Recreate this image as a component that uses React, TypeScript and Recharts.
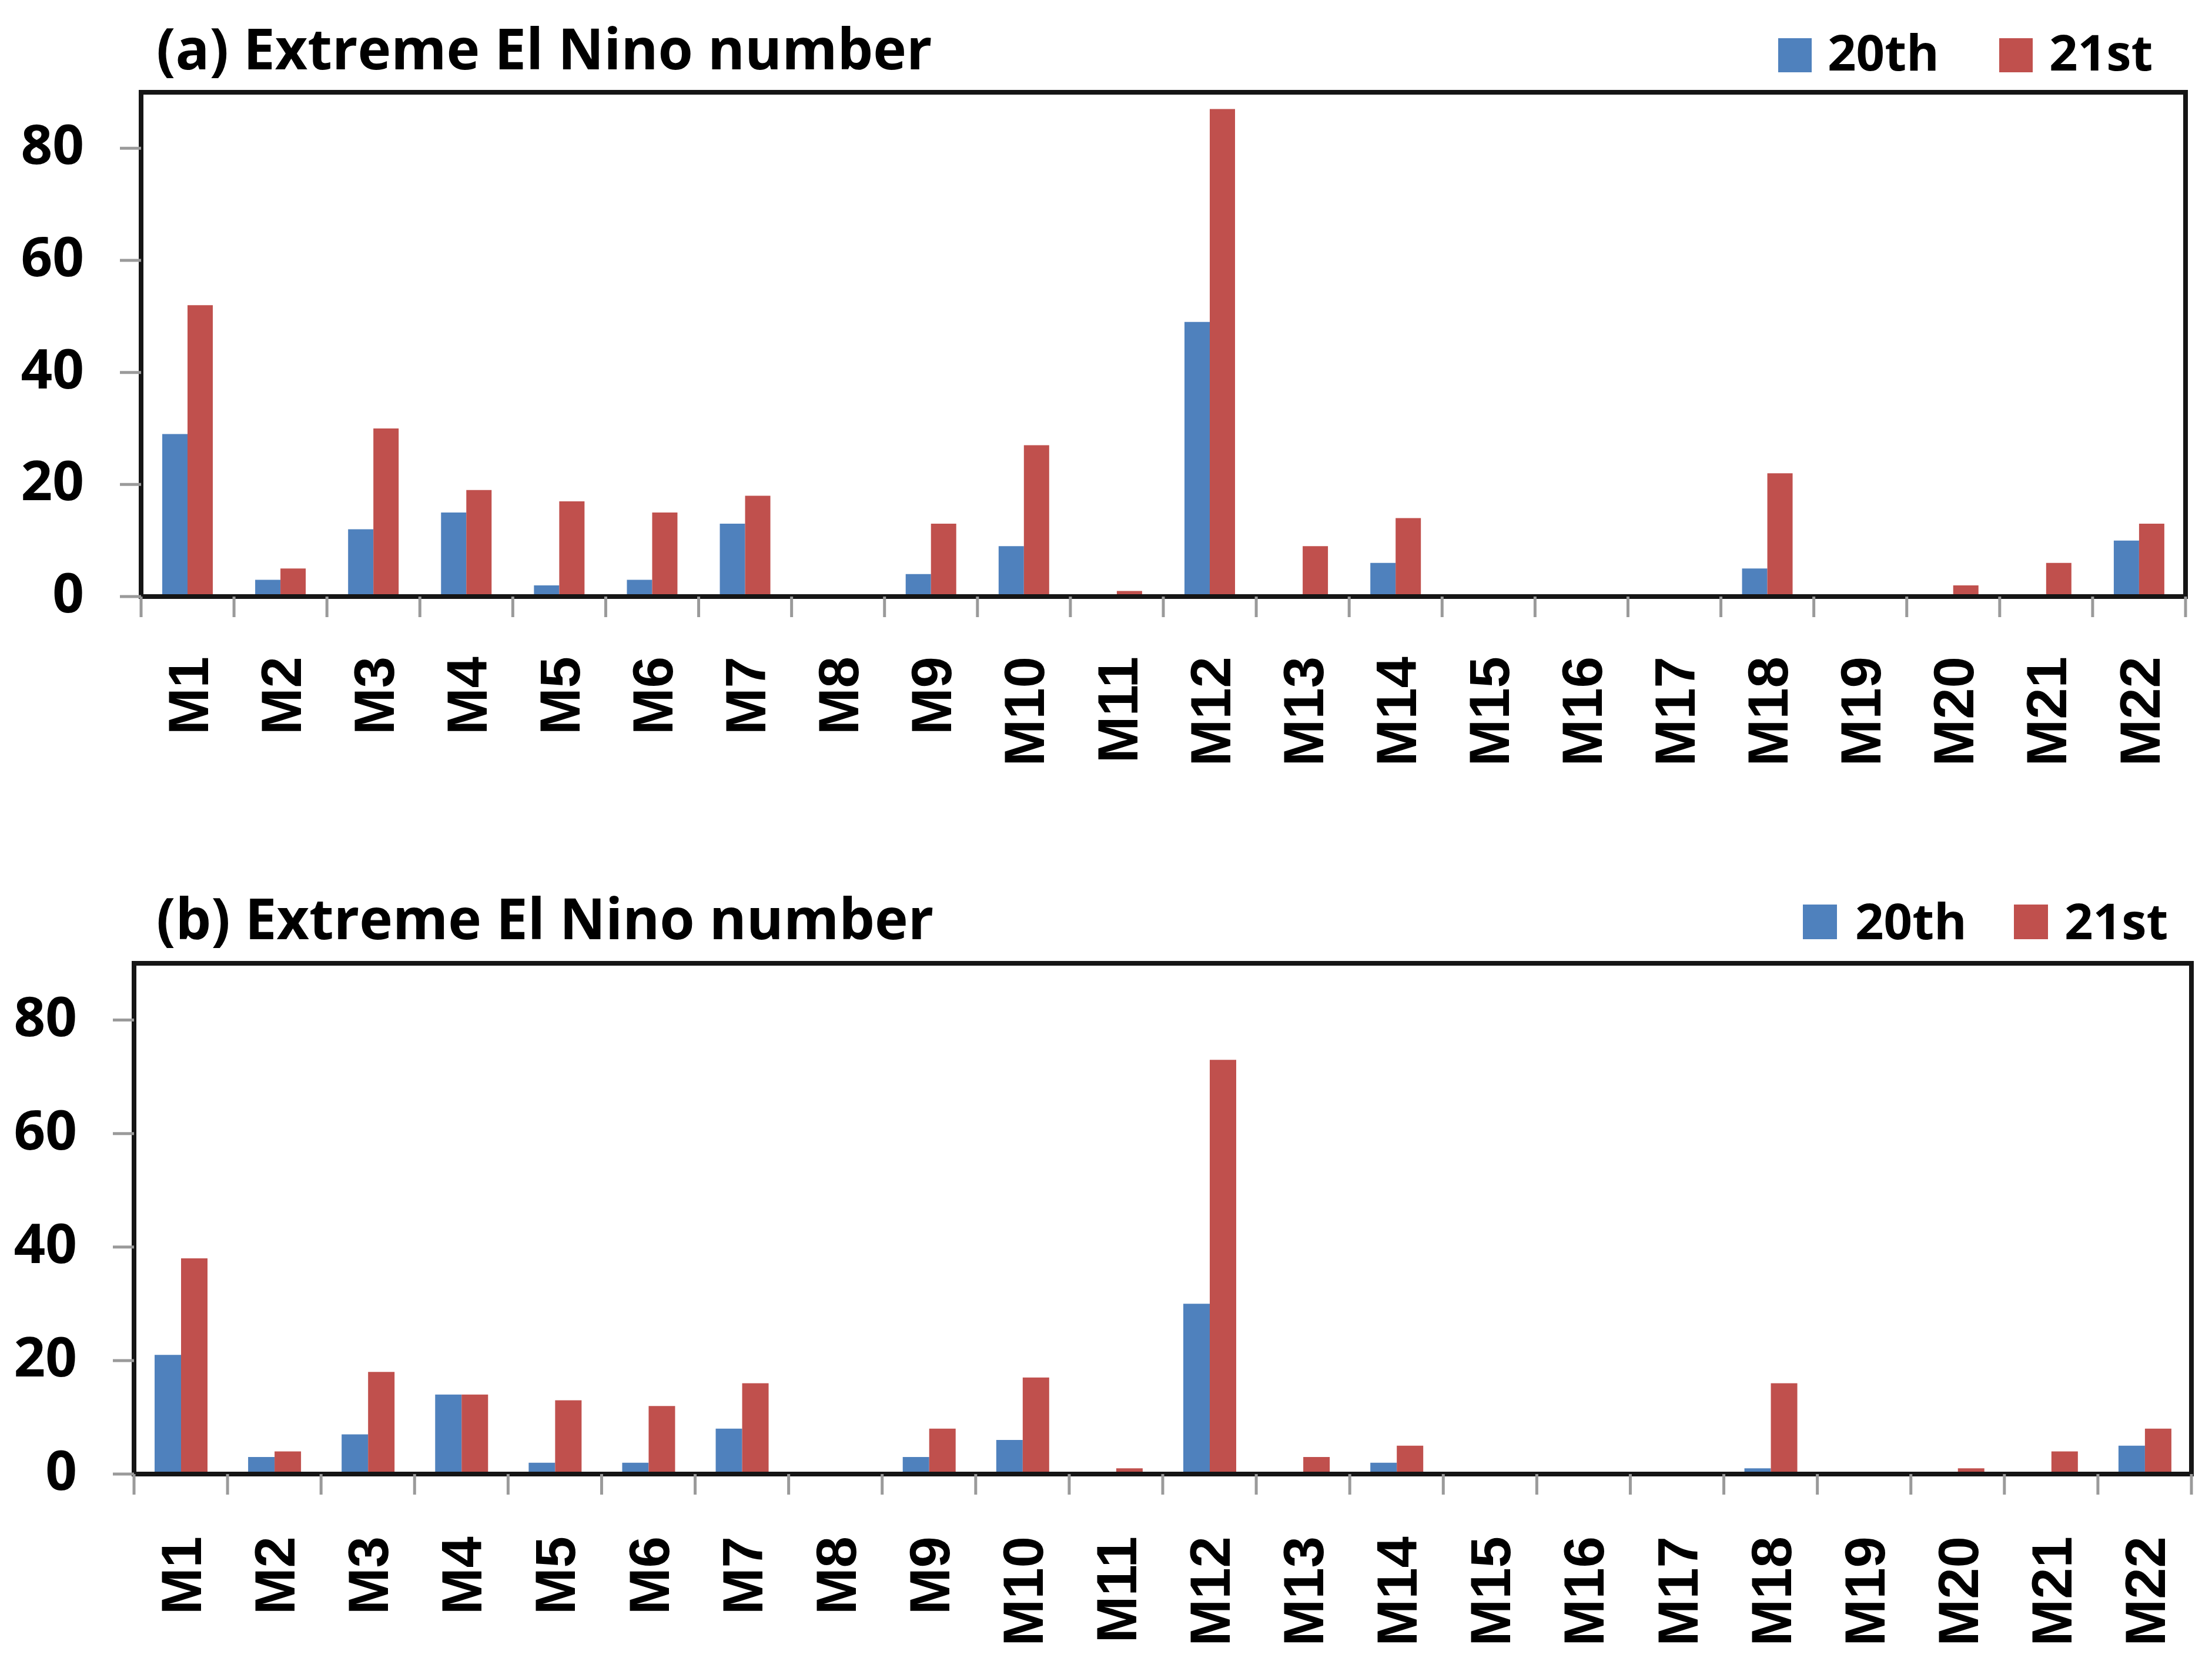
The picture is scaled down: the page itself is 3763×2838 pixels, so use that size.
import React from 'react';
import { BarChart, Bar, XAxis, YAxis, Legend, ReferenceArea } from 'recharts';

const categories = ['M1','M2','M3','M4','M5','M6','M7','M8','M9','M10','M11','M12','M13','M14','M15','M16','M17','M18','M19','M20','M21','M22'];
const panelA20 = [29, 3, 12, 15, 2, 3, 13, 0, 4, 9, 0, 49, 0, 6, 0, 0, 0, 5, 0, 0, 0, 10];
const panelA21 = [52, 5, 30, 19, 17, 15, 18, 0, 13, 27, 1, 87, 9, 14, 0, 0, 0, 22, 0, 2, 6, 13];
const panelB20 = [21, 3, 7, 14, 2, 2, 8, 0, 3, 6, 0, 30, 0, 2, 0, 0, 0, 1, 0, 0, 0, 5];
const panelB21 = [38, 4, 18, 14, 13, 12, 16, 0, 8, 17, 1, 73, 3, 5, 0, 0, 0, 16, 0, 1, 4, 8];
const yTicks = [0, 20, 40, 60, 80];
const yDomain = [0, 90];
const seriesNames = ['20th', '21st'];
const titles = ['(a) Extreme El Nino number', '(b) Extreme El Nino number'];

const BLUE = '#4F81BD';
const RED = '#C0504D';
const BORDER = '#151515';
const TICKGRAY = '#9a9a9a';
const SANS = "'Open Sans', 'Liberation Sans', sans-serif";
const LABELFONT = "'Liberation Sans', Arial, sans-serif";

const W = 3763;
const H = 1419;

const buildRows = (a: number[], b: number[]) =>
  categories.map((name, i) => ({ name, v20: a[i], v21: b[i] }));

const YTick = (props: any) => (
  <text x={props.x} y={props.y} dy={27} textAnchor="end" fontFamily={SANS} fontWeight={700} fontSize={94} fill="#000">
    {props.payload.value}
  </text>
);

const makeXTick = (labelGap: number) => (props: any) => {
  const { x, y, payload, index } = props;
  const half = payload && typeof payload.offset === 'number' ? payload.offset : 0;
  const axisY = y - labelGap;
  const last = index === categories.length - 1;
  return (
    <g>
      <line x1={x - half} x2={x - half} y1={axisY} y2={axisY + 35} stroke={TICKGRAY} strokeWidth={5} />
      {last && <line x1={x + half} x2={x + half} y1={axisY} y2={axisY + 35} stroke={TICKGRAY} strokeWidth={5} />}
      <text
        transform={`translate(${x},${y}) rotate(-90)`}
        textAnchor="end"
        dy="0.36em"
        fontFamily={LABELFONT}
        fontWeight={700}
        fontSize={96}
        fill="#000"
      >
        {payload.value}
      </text>
    </g>
  );
};

type Cfg = {
  margin: { top: number; right: number; bottom: number; left: number };
  labelGap: number;
  catGap: number;
  titleY: number;
  legend: { sq: number[]; tx: number[]; sqY: number; sqH: number; sqW: number; baseY: number };
};

const cfgA: Cfg = {
  margin: { top: 157, right: 45, bottom: 104, left: 100 },
  labelGap: 102,
  catGap: 36,
  titleY: 118,
  legend: { sq: [3025, 3401], tx: [3109, 3486], sqY: 65, sqH: 58, sqW: 57, baseY: 120 },
};

const cfgB: Cfg = {
  margin: { top: 220, right: 35, bottom: 30, left: 88 },
  labelGap: 106,
  catGap: 35,
  titleY: 179,
  legend: { sq: [3067, 3426], tx: [3156, 3512], sqY: 120, sqH: 59, sqW: 58, baseY: 179 },
};

const makeLegend = (cfg: Cfg) => (props: any) => {
  const payload = props.payload || [];
  return (
    <svg width={W} height={260} style={{ overflow: 'visible', display: 'block' }}>
      {payload.map((entry: any, i: number) => (
        <g key={entry.value}>
          <rect x={cfg.legend.sq[i]} y={cfg.legend.sqY} width={cfg.legend.sqW} height={cfg.legend.sqH} fill={entry.color} />
          <text x={cfg.legend.tx[i]} y={cfg.legend.baseY} fontFamily={SANS} fontWeight={700} fontSize={85} fill="#000">
            {entry.value}
          </text>
        </g>
      ))}
    </svg>
  );
};

const Panel = ({ rows, title, cfg }: { rows: any[]; title: string; cfg: Cfg }) => {
  const XTick = makeXTick(cfg.labelGap);
  return (
    <BarChart width={W} height={H} data={rows} margin={cfg.margin} barCategoryGap={cfg.catGap} barGap={0}>
      <text x={266} y={cfg.titleY} fontFamily={SANS} fontWeight={700} fontSize={96} fill="#000">
        {title}
      </text>
      <XAxis
        dataKey="name"
        height={300}
        interval={0}
        axisLine={{ stroke: BORDER, strokeWidth: 8 }}
        tickLine={false}
        tickSize={0}
        tickMargin={cfg.labelGap}
        tick={<XTick />}
      />
      <YAxis
        domain={yDomain}
        ticks={yTicks}
        interval={0}
        width={140}
        tickSize={36}
        tickMargin={61}
        tickLine={{ stroke: TICKGRAY, strokeWidth: 5 }}
        axisLine={{ stroke: BORDER, strokeWidth: 8 }}
        tick={<YTick />}
      />
      <ReferenceArea y1={yDomain[0]} y2={yDomain[1]} fill="none" fillOpacity={0} stroke={BORDER} strokeWidth={8} ifOverflow="visible" />
      <Legend
        layout="vertical"
        align="center"
        verticalAlign="middle"
        width={W}
        height={260}
        wrapperStyle={{ left: 0, top: 0, width: W, height: 260 }}
        content={makeLegend(cfg)}
      />
      <Bar dataKey="v20" name={seriesNames[0]} fill={BLUE} isAnimationActive={false} />
      <Bar dataKey="v21" name={seriesNames[1]} fill={RED} isAnimationActive={false} />
    </BarChart>
  );
};

export default function App() {
  return (
    <div style={{ position: 'relative', width: W, height: 2 * H, background: '#fff' }}>
      <style>{'body{margin:0;background:#fff;}'}</style>
      <div style={{ position: 'absolute', left: 0, top: 0 }}>
        <Panel rows={buildRows(panelA20, panelA21)} title={titles[0]} cfg={cfgA} />
      </div>
      <div style={{ position: 'absolute', left: 0, top: H }}>
        <Panel rows={buildRows(panelB20, panelB21)} title={titles[1]} cfg={cfgB} />
      </div>
    </div>
  );
}
